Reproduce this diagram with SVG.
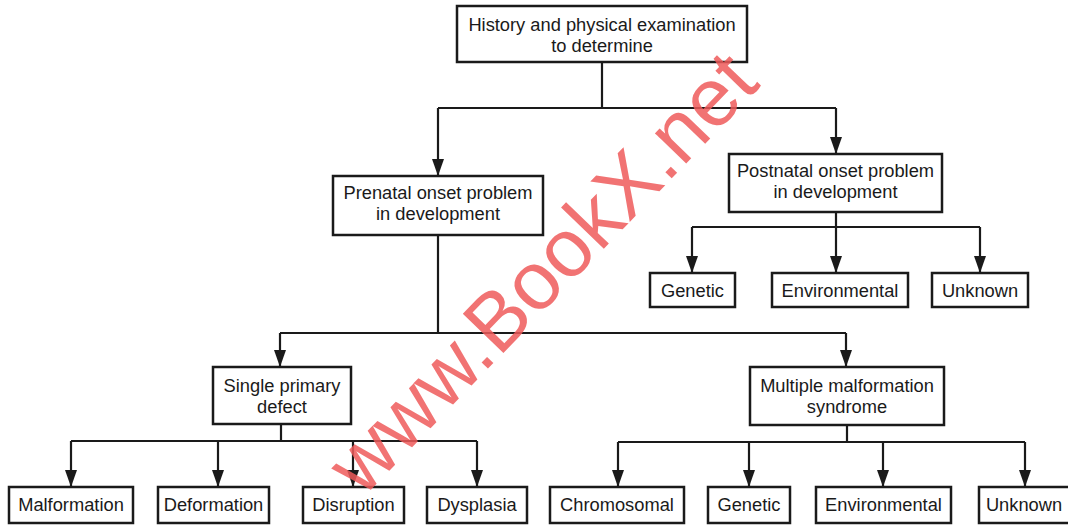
<svg xmlns="http://www.w3.org/2000/svg" width="1068" height="525" viewBox="0 0 1068 525">
<style>
.box{fill:#fff;stroke:#1a1a1a;stroke-width:2.5}
.t{font-family:"Liberation Sans",Arial,sans-serif;font-size:18.3px;fill:#1a1a1a;text-anchor:middle}
.c{fill:none;stroke:#1a1a1a;stroke-width:2.2}
.wm{font-family:"Liberation Sans",Arial,sans-serif;font-size:82px;fill:#ef5a5a;fill-opacity:0.85;text-anchor:middle}
</style>
<defs>
<path id="ah" d="M-6,-17 L6,-17 L0,0 Z" fill="#1a1a1a"/>
</defs>
<rect width="1068" height="525" fill="#fff"/>
<g id="connectors">
<path class="c" d="M602,62 V108 M438,108 H836"/>
<path class="c" d="M438,108 V176"/>
<path class="c" d="M836,108 V154"/>
<path class="c" d="M836,212 V227 M692,227 H980"/>
<path class="c" d="M692,227 V273"/>
<path class="c" d="M836,227 V273"/>
<path class="c" d="M980,227 V273"/>
<path class="c" d="M438,235 V333 M280,333 H846"/>
<path class="c" d="M280,333 V367"/>
<path class="c" d="M846,333 V367"/>
<path class="c" d="M281,424 V441 M71,441 H477"/>
<path class="c" d="M71,441 V487"/>
<path class="c" d="M218,441 V487"/>
<path class="c" d="M353,441 V487"/>
<path class="c" d="M477,441 V487"/>
<path class="c" d="M847,425 V442 M618,442 H1025"/>
<path class="c" d="M618,442 V487"/>
<path class="c" d="M749,442 V487"/>
<path class="c" d="M883,442 V487"/>
<path class="c" d="M1025,442 V487"/>
<use href="#ah" x="438" y="176"/>
<use href="#ah" x="836" y="154"/>
<use href="#ah" x="692" y="273"/>
<use href="#ah" x="836" y="273"/>
<use href="#ah" x="980" y="273"/>
<use href="#ah" x="280" y="367"/>
<use href="#ah" x="846" y="367"/>
<use href="#ah" x="71" y="487"/>
<use href="#ah" x="218" y="487"/>
<use href="#ah" x="353" y="487"/>
<use href="#ah" x="477" y="487"/>
<use href="#ah" x="618" y="487"/>
<use href="#ah" x="749" y="487"/>
<use href="#ah" x="883" y="487"/>
<use href="#ah" x="1025" y="487"/>
</g>
<g id="n-top"><rect class="box" x="457" y="6" width="290" height="56"/><text class="t" x="602" y="31">History and physical examination</text><text class="t" x="602" y="52">to determine</text></g>
<g id="n-prenatal"><rect class="box" x="333" y="176" width="210" height="59"/><text class="t" x="438" y="199">Prenatal onset problem</text><text class="t" x="438" y="220">in development</text></g>
<g id="n-postnatal"><rect class="box" x="729" y="154" width="213" height="58"/><text class="t" x="835.5" y="177">Postnatal onset problem</text><text class="t" x="835.5" y="198">in development</text></g>
<g id="n-post-genetic"><rect class="box" x="650" y="273" width="85" height="34"/><text class="t" x="692.5" y="297">Genetic</text></g>
<g id="n-post-env"><rect class="box" x="772" y="273" width="136" height="34"/><text class="t" x="840" y="297">Environmental</text></g>
<g id="n-post-unknown"><rect class="box" x="932" y="273" width="96" height="34"/><text class="t" x="980" y="297">Unknown</text></g>
<g id="n-single"><rect class="box" x="213" y="367" width="138" height="57"/><text class="t" x="282" y="392">Single primary</text><text class="t" x="282" y="413">defect</text></g>
<g id="n-multiple"><rect class="box" x="750" y="367" width="194" height="58"/><text class="t" x="847" y="392">Multiple malformation</text><text class="t" x="847" y="413">syndrome</text></g>
<g id="n-malformation"><rect class="box" x="9" y="487" width="124" height="36"/><text class="t" x="71" y="511">Malformation</text></g>
<g id="n-deformation"><rect class="box" x="158" y="487" width="111" height="36"/><text class="t" x="213.5" y="511">Deformation</text></g>
<g id="n-disruption"><rect class="box" x="303" y="487" width="101" height="36"/><text class="t" x="353.5" y="511">Disruption</text></g>
<g id="n-dysplasia"><rect class="box" x="427" y="487" width="100" height="36"/><text class="t" x="477" y="511">Dysplasia</text></g>
<g id="n-chromosomal"><rect class="box" x="550" y="487" width="134" height="36"/><text class="t" x="617" y="511">Chromosomal</text></g>
<g id="n-genetic"><rect class="box" x="708" y="487" width="82" height="36"/><text class="t" x="749" y="511">Genetic</text></g>
<g id="n-environmental"><rect class="box" x="816" y="487" width="135" height="36"/><text class="t" x="883.5" y="511">Environmental</text></g>
<g id="n-unknown"><rect class="box" x="979" y="487" width="92" height="36"/><text class="t" x="1024" y="511">Unknown</text></g>
<text class="wm" x="0" y="0" transform="translate(562,292) rotate(-46)">www.BookX.net</text>
</svg>
